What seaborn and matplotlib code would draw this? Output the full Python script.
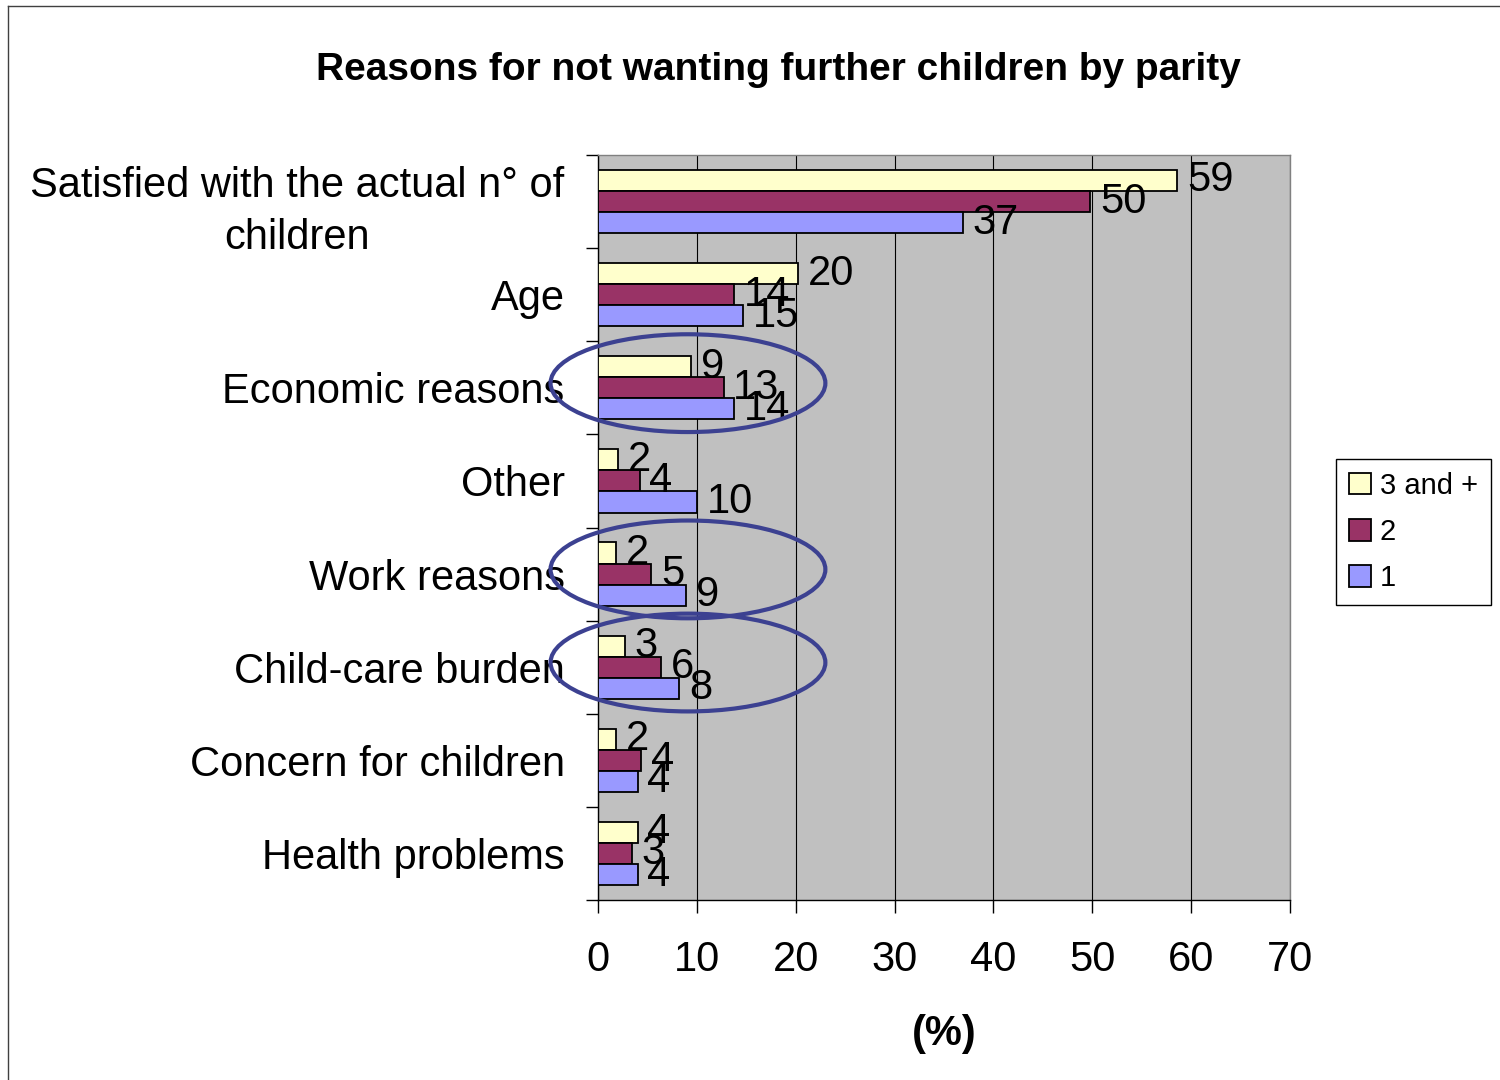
import numpy as np
import pandas as pd
import seaborn as sns
import matplotlib.pyplot as plt
from matplotlib.patches import Ellipse
from matplotlib.lines import Line2D


#%% Data

Reasons = [
    "Satisfied with the actual n° of\nchildren",
    "Age",
    "Economic reasons",
    "Other",
    "Work reasons",
    "Child-care burden",
    "Concern for children",
    "Health problems",
]

Parity = ["3 and +", "2", "1"]

Pct_3plus = [58.6, 20.2, 9.4, 2.0, 1.8, 2.7, 1.8, 4.0]
Pct_2     = [49.8, 13.8, 12.7, 4.2, 5.4, 6.4, 4.4, 3.4]
Pct_1     = [36.9, 14.7, 13.8, 10.0, 8.9, 8.2, 4.0, 4.0]

Circled = ["Economic reasons", "Work reasons", "Child-care burden"]

df = pd.DataFrame({
    "Reason": Reasons * 3,
    "Parity": [p for p in Parity for _ in Reasons],
    "Pct":    Pct_3plus + Pct_2 + Pct_1,
})


#%% Style

Colors = {"3 and +": "#FFFFCC", "2": "#993366", "1": "#9999FF"}

FontName           = "Liberation Sans"
FontSize_Title     = 28
FontSize_TickLabel = 30
FontSize_Legend    = 21

XTicks = [0, 10, 20, 30, 40, 50, 60, 70]
XLim   = [0, 70]

Fig_Width  = 15
Fig_Height = 10.8

Axis_left   = 598 / 1500
Axis_bottom = 1 - 900 / 1080
Axis_width  = (1290 - 598) / 1500
Axis_height = (900 - 155) / 1080

plt.rcParams['font.family'] = [FontName, 'DejaVu Sans']


#%% Plot

Fig = plt.figure(figsize=[Fig_Width, Fig_Height], dpi=100)
ax = plt.axes([Axis_left, Axis_bottom, Axis_width, Axis_height])
ax.set_facecolor("#C0C0C0")

sns.barplot(data=df, x="Pct", y="Reason", hue="Parity",
            order=Reasons, hue_order=Parity, palette=Colors,
            width=0.68, saturation=1, edgecolor="k", linewidth=1.3,
            orient="h", legend=False, ax=ax, zorder=3)

for c in ax.containers:
    ax.bar_label(c, fmt="%.0f", padding=7, fontsize=FontSize_TickLabel,
                 fontfamily=FontName)

# grid
ax.set_axisbelow(True)
ax.xaxis.grid(True, color="k", linewidth=0.8)
ax.yaxis.grid(False)

# X axis
ax.set_xlim(XLim)
ax.set_xticks(XTicks)
ax.set_xticklabels(XTicks, fontsize=FontSize_TickLabel)
ax.tick_params(axis="x", direction="out", length=9, width=1, pad=20)
ax.set_xlabel("(%)", fontsize=FontSize_TickLabel, fontweight="bold", labelpad=24)

# Y axis
ax.set_ylabel("")
ax.set_ylim(len(Reasons) - 0.5, -0.5)
ax.set_yticks(range(len(Reasons)))
ax.set_yticks(np.arange(-0.5, len(Reasons), 1), minor=True)
ax.tick_params(axis="y", which="major", length=0, pad=24, labelsize=FontSize_TickLabel)
ax.tick_params(axis="y", which="minor", direction="out", length=9, width=1)
first = ax.get_yticklabels()[0]
first.set_multialignment("center")
first.set_linespacing(1.4)

ax.spines[['top', 'right']].set_color("#808080")
ax.spines[['left', 'bottom']].set_color("k")
for s in ax.spines.values():
    s.set_linewidth(1)

# circled reasons
for name in Circled:
    idx = Reasons.index(name)
    ax.add_patch(Ellipse((9.1, idx - 0.05), width=27.8, height=1.05,
                         fill=False, edgecolor="#3C4191", linewidth=3,
                         clip_on=False, zorder=6))

# legend
handles = [plt.Rectangle((0, 0), 1, 1, facecolor=Colors[p], edgecolor="k", linewidth=1.3)
           for p in Parity]
leg = ax.legend(handles, Parity, loc="center left",
                bbox_to_anchor=(1336 / 1500, 1 - 532 / 1080),
                bbox_transform=Fig.transFigure, fontsize=FontSize_Legend,
                handlelength=0.75, handleheight=0.75, handletextpad=0.3,
                labelspacing=0.62, borderpad=0.45, borderaxespad=0,
                fancybox=False, framealpha=1, edgecolor="k")
leg.get_frame().set_linewidth(1)

# title
Fig.text(0.519, 1 - 70 / 1080, "Reasons for not wanting further children by parity",
         ha="center", va="center", fontsize=FontSize_Title, fontweight="bold")

# chart area border
Fig.add_artist(Line2D([8 / 1500, 8 / 1500], [0, 1 - 6 / 1080], color="#404040", linewidth=1))
Fig.add_artist(Line2D([8 / 1500, 1], [1 - 6 / 1080, 1 - 6 / 1080], color="#404040", linewidth=1))

plt.savefig("out.png", dpi=100)
